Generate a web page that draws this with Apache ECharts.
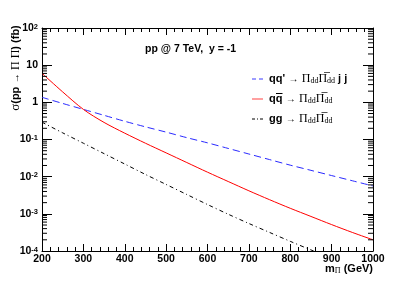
<!DOCTYPE html>
<html><head><meta charset="utf-8">
<script src="https://cdn.jsdelivr.net/npm/echarts@6/dist/echarts.min.js"></script>
<style>html,body{margin:0;padding:0;background:#fff}#c{width:415px;height:281px}</style>
</head><body><div id="c"></div>
<script>
// ---- data ----
const massGeV = [200,250,300,350,400,450,500,550,600,650,700,750,800,850,900,950,1000];
const sigmaQQprimeJJ = [1.365,0.933,0.646,0.447,0.309,0.219,0.158,0.112,0.0813,0.0575,0.0407,0.0288,0.0204,0.0148,0.0107,0.00776,0.00562];
const sigmaQQbar = [6.03,1.905,0.646,0.288,0.148,0.0794,0.0437,0.0240,0.0132,0.00741,0.00417,0.00240,0.00141,0.000851,0.000513,0.000316,0.000200];
const sigmaGG = [0.292,0.151,0.0794,0.0417,0.0219,0.01148,0.00617,0.00331,0.00178,0.000977,0.000550,0.000316,0.000182,0.000107,0.0000646,0.0000389,0.0000234];
const xTicks = [200,300,400,500,600,700,800,900,1000];
const seriesNames = ['qqp','qqbar','gg'];
// minor log ticks 2..9 per decade
const yMinorTicks = [];
for (let e = -4; e < 2; e++) for (let k = 2; k <= 9; k++) yMinorTicks.push(k * Math.pow(10, e));

const SANS = 'Liberation Sans, Arial, sans-serif';
const SERIF = 'Liberation Serif, DejaVu Serif, serif';
const rich = {
  b: {fontFamily: SANS, fontWeight: 'bold', fontSize: 11, fill: '#000', color: '#000'},
  n: {fontFamily: SANS, fontSize: 10, fill: '#000', color: '#000'},
  pi: {fontFamily: SERIF, fontSize: 12, fill: '#000', color: '#000'},
  sub: {fontFamily: SERIF, fontSize: 8, fill: '#000', color: '#000', verticalAlign: 'bottom', lineHeight: 8, padding: [8,0,0,0]},
  sig: {fontFamily: SERIF, fontSize: 13, fill: '#000', color: '#000'}
};
const legendText = {
  qqp: "{b|qq'} {n|→} {pi|Π}{sub|dd}{pi|Π\u0305}{sub|dd}{b| j j}",
  qqbar: "{b|qq} {n|→} {pi|Π}{sub|dd}{pi|Π\u0305}{sub|dd}",
  gg: "{b|gg} {n|→} {pi|Π}{sub|dd}{pi|Π\u0305}{sub|dd}"
};
const styles = {
  qqp: {color: '#2a2aff', width: 1, type: [7,4]},
  qqbar: {color: '#ff0000', width: 1, type: 'solid'},
  gg: {color: '#000000', width: 1, type: [4,3,1,3]}
};
const legendIcon = {
  qqp: {stroke: '#3a3aff', lineWidth: 1, lineDash: [4,3]},
  qqbar: {stroke: '#ffa0a0', lineWidth: 2},
  gg: {stroke: '#000', lineWidth: 1, lineDash: [3,2,1,2]}
};

const chart = echarts.init(document.getElementById('c'), null, {renderer: 'canvas'});
const axisLineStyle = {show: true, lineStyle: {color: '#000', width: 1}};
const xCommon = {
  type: 'value', min: 200, max: 1000, interval: 100,
  axisLine: axisLineStyle,
  axisTick: {show: true, inside: true, length: 7, lineStyle: {color: '#000'}},
  minorTick: {show: true, splitNumber: 5, length: 4, lineStyle: {color: '#000'}},
  splitLine: {show: false}
};
const yCommon = {
  type: 'log', logBase: 10, min: 1e-4, max: 100,
  axisLine: axisLineStyle,
  axisTick: {show: true, inside: true, length: 10, lineStyle: {color: '#000'}},
  splitLine: {show: false}
};
const yLabelFmt = v => {
  const e = Math.round(Math.log10(v));
  if (e === 0) return '{m|1}';
  if (e === 1) return '{m|10}';
  return '{m|10}{s|' + e + '}';
};

const seriesData = {qqp: sigmaQQprimeJJ, qqbar: sigmaQQbar, gg: sigmaGG};
const lineSeries = seriesNames.map(n => ({
  name: n, type: 'line', data: massGeV.map((m,i)=>[m, seriesData[n][i]]), smooth: 0.3, symbol: 'none', clip: true,
  lineStyle: styles[n], itemStyle: {color: styles[n].color}
}));

const legendGraphics = [];
seriesNames.forEach((n, i) => {
  const y = 79 + i * 20;
  legendGraphics.push({type: 'line', shape: {x1: 252, y1: y, x2: 263, y2: y}, style: legendIcon[n]});
  legendGraphics.push({type: 'text', x: 269, y: y, style: {text: legendText[n], rich: rich, verticalAlign: 'middle', align: 'left'}});
});
// overline (bar) over the antiquark q in "q q-bar"
legendGraphics.push({type: 'line', shape: {x1: 276, y1: 93.5, x2: 282.5, y2: 93.5}, style: {stroke: '#000', lineWidth: 1}});

chart.setOption({
  animation: false,
  backgroundColor: '#fff',
  grid: {left: 42, top: 28, right: 42, bottom: 30, show: false},
  xAxis: [
    Object.assign({}, xCommon, {position: 'bottom',
      axisLabel: {show: true, margin: 3, fontFamily: SANS, fontWeight: 'bold', fontSize: 10.5, color: '#000',
        formatter: v => xTicks.includes(v) ? String(v) : ''}}),
    Object.assign({}, xCommon, {position: 'top', axisLabel: {show: false}})
  ],
  yAxis: [
    Object.assign({}, yCommon, {position: 'left',
      axisLabel: {show: true, margin: 4, formatter: yLabelFmt,
        rich: {m: {fontFamily: SANS, fontWeight: 'bold', fontSize: 10.5, color: '#000'},
               s: {fontFamily: SANS, fontWeight: 'bold', fontSize: 7.5, color: '#000', verticalAlign: 'top', lineHeight: 8, padding: [0,0,6,0]}}}}),
    Object.assign({}, yCommon, {position: 'right', axisLabel: {show: false}})
  ],
  series: lineSeries.concat([
    {name: 'minorY', type: 'custom', silent: true, clip: false, z: 5,
     data: yMinorTicks.map(v => [200, v]),
     renderItem: (params, api) => {
       const cs = params.coordSys;
       const y = api.coord([200, api.value(1)])[1];
       const st = {stroke: '#000', lineWidth: 1};
       return {type: 'group', children: [
         {type: 'line', shape: {x1: cs.x, y1: y, x2: cs.x + 5, y2: y}, style: st},
         {type: 'line', shape: {x1: cs.x + cs.width - 5, y1: y, x2: cs.x + cs.width, y2: y}, style: st}
       ]};
     }}
  ]),
  graphic: legendGraphics.concat([
    {type: 'text', left: 145, top: 44,
     style: {text: 'pp @ 7 TeV,  y = -1', font: 'bold 10.5px ' + SANS, fill: '#000'}},
    {type: 'text', x: 16, y: 68, rotation: Math.PI/2,
     style: {text: '{sig|σ}{b|(pp} {n|→} {pi|Π Π}{b|) (fb)}', rich: rich, align: 'center', verticalAlign: 'middle'}},
    {type: 'text', x: 373, y: 269,
     style: {text: '{b|m}{sub|Π}{b| (GeV)}', rich: rich, align: 'right', verticalAlign: 'middle'}}
  ])
});
</script></body></html>
